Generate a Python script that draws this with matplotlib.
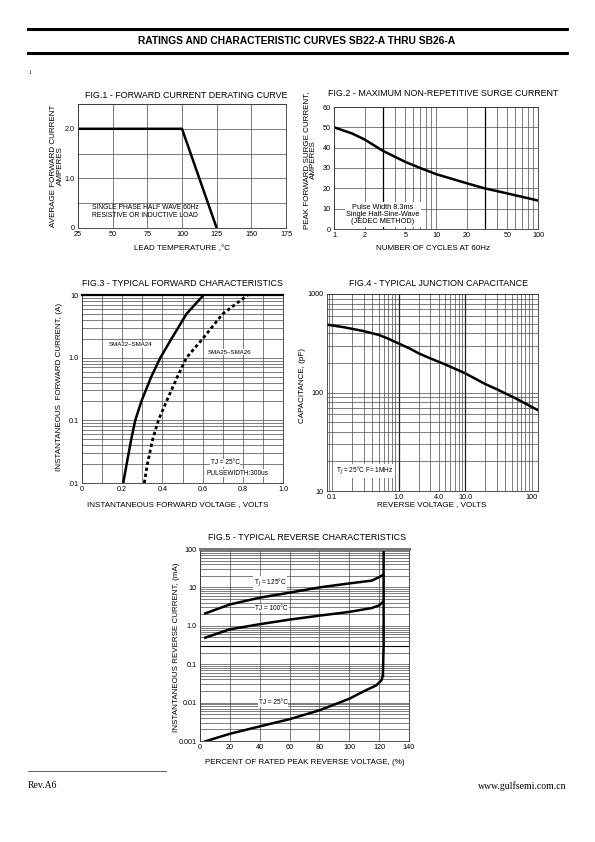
import numpy as np
import matplotlib as mpl
import matplotlib.pyplot as plt
from matplotlib.ticker import FixedLocator, NullFormatter

W, H = 595, 842

# FIG.1 derating
derating_temp = [25, 100, 125]
derating_amps = [2.0, 2.0, 0.0]

# FIG.2 surge
surge_cycles = [1, 1.5, 2, 3, 5, 7, 10, 20, 30, 50, 100]
surge_amps = [50, 47, 44, 38.5, 33, 30, 27, 22.5, 20, 17.5, 14]

# FIG.3 forward characteristics
fwd_current = [0.01, 0.02, 0.05, 0.1, 0.2, 0.5, 1.0, 2.0, 5.0, 10.0]
fwd_v_sma22 = [0.205, 0.222, 0.245, 0.265, 0.295, 0.345, 0.39, 0.445, 0.52, 0.605]
fwd_v_sma25 = [0.31, 0.325, 0.352, 0.38, 0.42, 0.475, 0.52, 0.6, 0.7, 0.825]

# FIG.4 junction capacitance
rev_volts = [0.085, 0.15, 0.3, 0.5, 0.7, 1.0, 1.5, 2, 3, 5, 10, 20, 30, 60, 125]
cap_pf = [488, 460, 420, 385, 352, 315, 278, 250, 222, 193, 157, 122, 108, 86, 66]

# FIG.5 reverse characteristics
pct_v = [3.5, 20, 40, 60, 80, 100, 115, 120, 122.5]
ir_125 = [2.1, 3.6, 5.4, 7.3, 10, 12.7, 15, 18.5, 21]
ir_100 = [0.49, 0.81, 1.1, 1.45, 1.84, 2.3, 2.9, 3.4, 4.2]
pct_v25 = [3.5, 20, 40, 60, 80, 100, 110, 118, 121.5, 122.5]
ir_25 = [0.00098, 0.00154, 0.0024, 0.0037, 0.0063, 0.0126, 0.02, 0.028, 0.038, 0.05]
breakdown_x = [122.5, 123, 123]
breakdown_y = [0.05, 0.3, 100]

mpl.rc('font', family='Liberation Sans', size=5)
mpl.rcParams['axes.linewidth'] = 0.6

fig = plt.figure(figsize=(W / 100, H / 100), dpi=100)

GRID = '#4a4a4a'
TICK = 5.2
LAB = 5.8
TTL = 6.4
WHITE = dict(facecolor='white', edgecolor='none', pad=0.5)


def px_axes(l, t, r, b):
    ax = fig.add_axes([l / W, 1 - b / H, (r - l) / W, (b - t) / H])
    ax.tick_params(length=0, labelsize=TICK, pad=2.5)
    for s in ax.spines.values():
        s.set_color('#333333')
    return ax


def ftext(x, y, s, **kw):
    fig.text(x / W, 1 - y / H, s, **kw)


# header
fig.add_artist(plt.Line2D([28 / W, 567 / W], [1 - 29 / H, 1 - 29 / H], color='black', lw=2.2))
fig.add_artist(plt.Line2D([28 / W, 567 / W], [1 - 53 / H, 1 - 53 / H], color='black', lw=2.2))
ftext(297, 41, 'RATINGS AND CHARACTERISTIC CURVES SB22-A THRU SB26-A', ha='center', va='center',
      fontsize=7.4, fontweight='bold')
ftext(30, 72, '1', ha='center', va='center', fontsize=4, family='Liberation Serif')

# ---------- FIG.1 ----------
ax = px_axes(78, 104, 286, 228)
ax.plot(derating_temp, derating_amps, '-', color='black', lw=1.8, solid_capstyle='butt')
ax.set_xlim(25, 175)
ax.set_ylim(0, 2.5)
ax.set_xticks([25, 50, 75, 100, 125, 150, 175])
ax.set_yticks([0, 1.0, 2.0])
ax.set_yticklabels(['0', '1.0', '2.0'])
ax.yaxis.set_minor_locator(FixedLocator([0.5, 1.5, 2.5]))
ax.grid(True, which='both', color=GRID, lw=0.5)
ax.tick_params(which='minor', length=0)
ax.text(35, 0.33, 'SINGLE PHASE HALF WAVE 60Hz\nRESISTIVE OR INDUCTIVE LOAD', fontsize=4.9,
        va='center', ha='left', linespacing=1.1)
ftext(186, 95, 'FIG.1 - FORWARD CURRENT DERATING CURVE', ha='center', va='center', fontsize=TTL)
ftext(182, 249, 'LEAD TEMPERATURE ,\u00b0C', ha='center', va='center', fontsize=LAB)
ftext(57, 166, 'AVERAGE FORWARD CURRENT\nAMPERES', ha='center', va='center', fontsize=LAB,
      rotation=90, linespacing=1.0)

# ---------- FIG.2 ----------
ax = px_axes(334, 107, 538, 229)
ax.plot(surge_cycles, surge_amps, '-', color='black', lw=1.8)
ax.set_xscale('log')
ax.set_xlim(1, 100)
ax.set_ylim(0, 60)
ax.set_yticks(range(0, 61, 10))
ax.set_xticks([1, 2, 5, 10, 20, 50, 100])
ax.set_xticklabels(['1', '2', '5', '10', '20', '50', '100'])
ax.xaxis.set_minor_locator(FixedLocator([3, 4, 6, 7, 8, 9, 30, 40, 60, 70, 80, 90]))
ax.xaxis.set_minor_formatter(NullFormatter())
ax.grid(True, which='both', color=GRID, lw=0.5)
ax.tick_params(which='minor', length=0)
for xv in [3, 30]:
    ax.axvline(xv, color='black', lw=0.9)
ax.text(3, 7.2, 'Pulse Width 8.3ms\nSingle Half-Sine-Wave\n(JEDEC METHOD)', fontsize=5.3,
        ha='center', va='center', linespacing=1.05,
        bbox=dict(facecolor='white', edgecolor='none', pad=1.0))
ftext(443, 94, 'FIG.2 - MAXIMUM NON-REPETITIVE SURGE CURRENT', ha='center', va='center', fontsize=TTL)
ftext(433, 248, 'NUMBER OF CYCLES AT 60Hz', ha='center', va='center', fontsize=LAB)
ftext(310, 160, 'PEAK FORWARD SURGE CURRENT,\nAMPERES', ha='center', va='center', fontsize=LAB,
      rotation=90, linespacing=1.0)

# ---------- FIG.3 ----------
ax = px_axes(82, 295, 283, 483)
ax.plot(fwd_v_sma22, fwd_current, '-', color='black', lw=1.8)
ax.plot(fwd_v_sma25, fwd_current, color='black', lw=2.0, dashes=(1.2, 1.0))
ax.set_yscale('log')
ax.set_xlim(0, 1.0)
ax.set_ylim(0.01, 10)
ax.set_xticks(np.arange(0, 1.01, 0.2))
ax.set_xticklabels(['0', '0.2', '0.4', '0.6', '0.8', '1.0'])
ax.xaxis.set_minor_locator(FixedLocator([0.1, 0.3, 0.5, 0.7, 0.9]))
ax.set_yticks([0.01, 0.1, 1.0, 10])
ax.set_yticklabels(['.01', '0.1', '1.0', '10'])
ax.yaxis.set_minor_formatter(NullFormatter())
ax.grid(True, which='both', color=GRID, lw=0.5)
ax.tick_params(which='minor', length=0)
ax.spines['top'].set_linewidth(1.6)
ax.spines['top'].set_color('black')
ax.text(0.24, 1.6, 'SMA22\u2013SMA24', fontsize=4.4, ha='center', va='center', bbox=WHITE)
ax.text(0.735, 1.22, 'SMA25\u2013SMA26', fontsize=4.4, ha='center', va='center', bbox=WHITE)
ax.text(0.64, 0.021, 'TJ = 25\u00b0C', fontsize=4.7, ha='left', va='center', bbox=WHITE)
ax.text(0.62, 0.0143, 'PULSEWIDTH:300us', fontsize=4.7, ha='left', va='center', bbox=WHITE)
ftext(183, 283, 'FIG.3 - TYPICAL FORWARD CHARACTERISTICS', ha='center', va='center', fontsize=TTL)
ftext(178, 505, 'INSTANTANEOUS FORWARD VOLTAGE , VOLTS', ha='center', va='center', fontsize=LAB)
ftext(60, 387, 'INSTANTANEOUS  FORWARD CURRENT, (A)', ha='center', va='center', fontsize=LAB,
      rotation=90)

# ---------- FIG.4 ----------
ax = px_axes(327, 294, 538, 491)
ax.plot(rev_volts, cap_pf, '-', color='black', lw=1.8)
ax.set_xscale('log')
ax.set_yscale('log')
ax.set_xlim(0.084, 125)
ax.set_ylim(10, 1000)
ax.set_xticks([0.1, 1.0, 4.0, 10.0, 100])
ax.set_xticklabels(['0.1', '1.0', '4.0', '10.0', '100'])
ax.xaxis.set_minor_formatter(NullFormatter())
ax.set_yticks([10, 100, 1000])
ax.set_yticklabels(['10', '100', '1000'])
ax.yaxis.set_minor_formatter(NullFormatter())
ax.grid(True, which='both', color=GRID, lw=0.5)
ax.tick_params(which='minor', length=0)
for xv in [1, 10]:
    ax.axvline(xv, color='#222222', lw=0.9)
ax.text(0.115, 16, 'T$_J$ = 25\u00b0C F= 1MHz', fontsize=4.7, ha='left', va='center', bbox=WHITE)
ftext(438, 283, 'FIG.4 - TYPICAL JUNCTION CAPACITANCE', ha='center', va='center', fontsize=TTL)
ftext(432, 505, 'REVERSE VOLTAGE , VOLTS', ha='center', va='center', fontsize=LAB)
ftext(303, 385, 'CAPACITANCE, (pF)', ha='center', va='center', fontsize=LAB, rotation=90)

# ---------- FIG.5 ----------
ax = px_axes(200, 549, 409, 741)
ax.plot(pct_v, ir_125, '-', color='black', lw=1.8)
ax.plot(pct_v, ir_100, '-', color='black', lw=1.8)
ax.plot(pct_v25, ir_25, '-', color='black', lw=1.8)
ax.plot(breakdown_x, breakdown_y, '-', color='black', lw=1.8)
ax.set_yscale('log')
ax.set_xlim(0, 140)
ax.set_ylim(0.001, 100)
ax.set_xticks(range(0, 141, 20))
ax.set_yticks([0.001, 0.01, 0.1, 1.0, 10, 100])
ax.set_yticklabels(['0.001', '0.01', '0.1', '1.0', '10', '100'])
ax.yaxis.set_minor_formatter(NullFormatter())
ax.grid(True, which='both', color=GRID, lw=0.5)
ax.tick_params(which='minor', length=0)
ax.axhline(0.3, color='black', lw=0.8)
ax.spines['top'].set_linewidth(2.2)
ax.spines['top'].set_color('#777777')
ax.text(47, 13, 'T$_J$ = 125\u00b0C', fontsize=4.7, ha='center', va='center', bbox=WHITE)
ax.text(48, 2.9, 'TJ = 100\u00b0C', fontsize=4.7, ha='center', va='center', bbox=WHITE)
ax.text(49, 0.01, 'TJ = 25\u00b0C', fontsize=4.7, ha='center', va='center', bbox=WHITE)
ftext(307, 538, 'FIG.5 - TYPICAL REVERSE CHARACTERISTICS', ha='center', va='center', fontsize=TTL)
ftext(305, 763, 'PERCENT OF RATED PEAK REVERSE VOLTAGE, (%)', ha='center', va='center', fontsize=LAB)
ftext(176, 647, 'INSTANTANEOUS REVERSE CURRENT, (mA)', ha='center', va='center', fontsize=LAB,
      rotation=90)

# footer
fig.add_artist(plt.Line2D([28 / W, 166 / W], [1 - 771 / H, 1 - 771 / H], color='#444444', lw=0.6))
ftext(28, 786, 'Rev.A6', ha='left', va='center', fontsize=7, family='Liberation Serif')
ftext(566, 786, 'www.gulfsemi.com.cn', ha='right', va='center', fontsize=7, family='Liberation Serif')

fig.savefig('out.png', dpi=100)
plt.close(fig)
